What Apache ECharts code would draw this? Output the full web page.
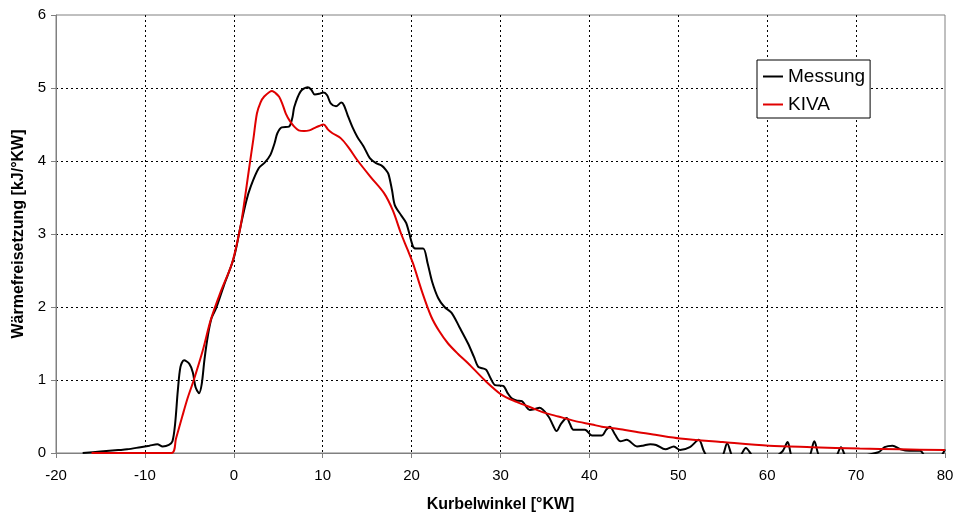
<!DOCTYPE html>
<html>
<head>
<meta charset="utf-8">
<script src="https://cdn.jsdelivr.net/npm/echarts@6/dist/echarts.min.js"></script>
<style>
html,body{margin:0;padding:0;background:#fff;}
#c{width:957px;height:518px;}
</style>
</head>
<body>
<div id="c"></div>
<script>
// Messung (measurement)
var messX = [-17,-15,-13,-12,-10.5,-9.5,-8.6,-8.0,-7.3,-6.9,-6.6,-6.3,-6.0,-5.6,-5.0,-4.6,-4.3,-3.9,-3.6,-3.3,-2.9,-2.5,-2.0,-1.1,0,0.75,1.4,1.9,2.8,3.5,4.1,4.6,4.9,5.4,6.2,6.6,6.8,7.5,8.3,8.7,9.1,9.6,10.1,10.5,10.9,11.5,12.1,12.4,12.8,13.4,13.9,14.6,15.3,16.0,16.6,17.1,17.4,17.8,18.1,18.8,19.4,20.15,20.5,21.3,21.8,22.3,23.0,23.7,24.5,25.4,26.35,27.0,27.5,28.0,28.4,28.9,29.4,30.3,30.8,31.25,31.8,32.4,33.3,33.8,34.4,35.4,35.9,36.3,36.8,37.45,37.8,38.2,39.5,40.3,41.4,41.9,42.3,42.9,43.5,44.2,45.35,46.0,46.85,47.5,48.55,49.5,50.2,51.3,52.3,52.9,53.4,54.8,55.5,56.2,56.8,57.6,58.6,60.5,61.7,62.3,62.9,64.6,65.3,66.0,67.6,68.3,69.0,72.5,73.2,74.1,75.0,76.0,77.2,77.9,79.3,80];
var messY = [0,0.02,0.04,0.05,0.08,0.10,0.12,0.09,0.11,0.16,0.4,0.85,1.18,1.27,1.22,1.10,0.9,0.82,0.95,1.28,1.62,1.85,1.98,2.3,2.67,3.1,3.45,3.65,3.9,3.98,4.08,4.25,4.38,4.46,4.47,4.6,4.74,4.95,5.01,4.98,4.91,4.92,4.94,4.9,4.79,4.75,4.80,4.76,4.63,4.45,4.33,4.2,4.04,3.97,3.94,3.88,3.82,3.6,3.4,3.26,3.15,2.83,2.8,2.80,2.6,2.35,2.12,2.0,1.92,1.72,1.50,1.32,1.18,1.16,1.14,1.02,0.93,0.92,0.82,0.75,0.72,0.71,0.59,0.60,0.62,0.50,0.38,0.30,0.40,0.48,0.40,0.32,0.32,0.24,0.24,0.32,0.36,0.25,0.16,0.18,0.09,0.10,0.12,0.11,0.05,0.09,0.04,0.08,0.18,0.02,-0.06,-0.06,0.13,-0.06,-0.06,0.07,-0.06,-0.06,0.02,0.15,-0.06,-0.06,0.16,-0.06,-0.06,0.08,-0.06,0.01,0.08,0.10,0.05,0.03,0.03,-0.06,-0.06,0.05];

// KIVA (simulation)
var kivaX = [-16,-7.0,-6.5,-5.8,-5.2,-4.5,-3.5,-2.6,-1.5,-0.2,0.75,1.2,1.7,2.2,2.6,3.0,3.4,4.3,4.7,5.1,5.5,5.85,6.3,6.8,7.3,7.9,8.5,9.05,9.6,10.1,10.6,11.1,12.05,13.0,13.9,15.4,16.9,17.9,18.8,19.5,20.15,21.2,22.2,23.1,24.1,25.2,26.35,28.2,30.1,31.8,33.5,35.0,36.5,38.3,40.3,41.4,43.3,45.2,47.4,50.2,55,60.2,65,70.4,75,80];
var kivaY = [0,0,0.2,0.5,0.75,1.0,1.4,1.82,2.2,2.6,3.1,3.45,3.88,4.3,4.65,4.8,4.88,4.96,4.93,4.88,4.77,4.65,4.55,4.47,4.42,4.41,4.42,4.45,4.48,4.5,4.43,4.38,4.31,4.17,4.01,3.78,3.56,3.32,3.01,2.8,2.60,2.2,1.87,1.67,1.50,1.36,1.23,1.0,0.80,0.70,0.62,0.55,0.50,0.44,0.39,0.36,0.33,0.29,0.25,0.20,0.15,0.10,0.08,0.06,0.05,0.04];

var seriesNames = ['Messung', 'KIVA'];
var xTickMin = -20, xTickMax = 80, xTickStep = 10;
var yTickMin = 0, yTickMax = 6, yTickStep = 1;

function pairs(xs, ys){ return xs.map(function(x,i){ return [x, ys[i]]; }); }

var font = '"Liberation Sans", Arial, sans-serif';
var chart = echarts.init(document.getElementById('c'), null, {renderer:'canvas'});
chart.setOption({
  animation: false,
  backgroundColor: '#ffffff',
  grid: {left:56, right:12, top:15, bottom:65, show:true, borderColor:'#808080', borderWidth:1, backgroundColor:'#ffffff', containLabel:false, outerBoundsMode:'none'},
  legend: {
    data: seriesNames.map(function(n){ return {name:n, icon:'rect'}; }),
    orient: 'vertical', left: 757, top: 60,
    itemWidth: 20, itemHeight: 2, itemGap: 9,
    padding: [7, 5, 4, 6],
    borderColor: '#000', borderWidth: 1, backgroundColor:'#fff',
    textStyle: {fontFamily: font, fontSize: 19, color:'#000', lineHeight: 19, padding:[0,0,0,0]}
  },
  xAxis: {
    type:'value', min:xTickMin, max:xTickMax, interval:xTickStep,
    name:'Kurbelwinkel [°KW]', nameLocation:'middle', nameGap:44,
    nameTextStyle:{fontFamily:font, fontSize:16, fontWeight:'bold', color:'#000'},
    axisLine:{show:true, onZero:false, lineStyle:{color:'#808080', width:1}},
    axisTick:{show:true, inside:false, length:5, lineStyle:{color:'#808080'}},
    axisLabel:{fontFamily:font, fontSize:15, color:'#000', margin:15},
    splitLine:{show:true, showMinLine:false, showMaxLine:false, lineStyle:{color:'#000', width:1, type:[2,3]}}
  },
  yAxis: {
    type:'value', min:yTickMin, max:yTickMax, interval:yTickStep,
    name:'Wärmefreisetzung [kJ/°KW]', nameLocation:'middle', nameGap:28, nameRotate:90,
    nameTextStyle:{fontFamily:font, fontSize:16, fontWeight:'bold', color:'#000'},
    axisLine:{show:true, onZero:false, lineStyle:{color:'#808080', width:1}},
    axisTick:{show:true, inside:false, length:5, lineStyle:{color:'#808080'}},
    axisLabel:{fontFamily:font, fontSize:15, color:'#000', margin:10},
    splitLine:{show:true, showMinLine:false, showMaxLine:false, lineStyle:{color:'#000', width:1, type:[2,3]}}
  },
  series: [
    {name:seriesNames[0], type:'line', data:pairs(messX, messY), showSymbol:false, smooth:0.3, clip:true,
     lineStyle:{color:'#000', width:2}, itemStyle:{color:'#000'}, z:3},
    {name:seriesNames[1], type:'line', data:pairs(kivaX, kivaY), showSymbol:false, smooth:0.3, clip:true,
     lineStyle:{color:'#e00000', width:2}, itemStyle:{color:'#e00000'}, z:4}
  ]
});
</script>
</body>
</html>
